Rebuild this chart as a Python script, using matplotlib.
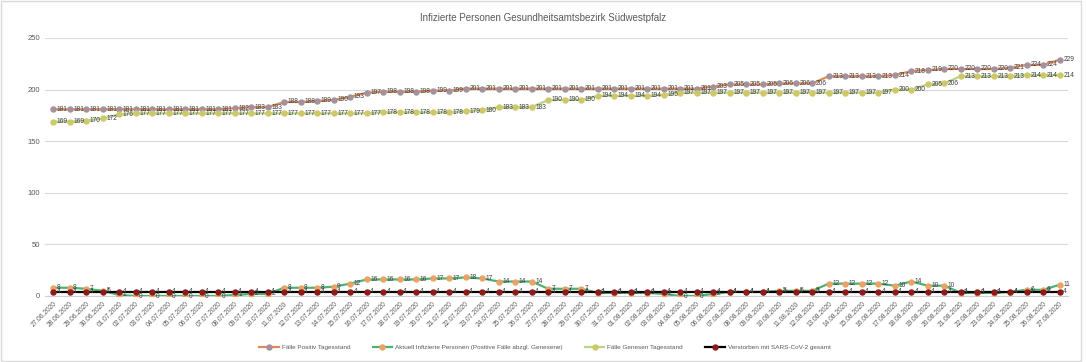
import matplotlib
matplotlib.use("Agg")
import matplotlib.pyplot as plt
import pandas as pd
from matplotlib.patches import Rectangle

plt.rcParams['font.family'] = ['Liberation Sans', 'DejaVu Sans']

dates = [d.strftime('%d.%m.%Y') for d in pd.date_range('2020-06-27', '2020-08-27', freq='D')]

positiv = [181]*11 + [182, 183, 183, 188, 188, 189, 190, 193, 197, 198, 198, 198, 199, 199] + [201]*15 + \
          [203, 205, 205, 205, 206, 206, 206, 213, 213, 213, 213, 214, 218, 219, 220, 220, 220, 220, 221, 224, 224, 229]
aktuell = [8, 8, 7, 5, 1] + [0]*6 + [1, 2, 2, 8, 8, 8, 9, 12, 16, 16, 16, 16, 17, 17, 18, 17, 14, 14, 14,
           7, 7, 7, 3, 3, 3, 3, 2, 0, 0, 2, 4, 4, 4, 5, 5, 5, 12, 12, 12, 12, 10, 14, 10, 10, 3, 3, 3, 4, 6, 6, 11]
genesen = [169, 169, 170, 172, 176] + [177]*15 + [178]*5 + [179, 180, 183, 183, 183, 190, 190, 190,
           194, 194, 194, 194, 195] + [197]*13 + [200, 200, 205, 206, 213, 213, 213, 213, 214, 214, 214]
verstorben = [4]*62

series = [
    ("Fälle Positiv Tagesstand", positiv, '#E08A5C', '#A3919C'),
    ("Aktuell Infizierte Personen (Positive Fälle abzgl. Genesene)", aktuell, '#4DB173', '#E9A365'),
    ("Fälle Genesen Tagesstand", genesen, '#B9D28C', '#CFC867'),
    ("Verstorben mit SARS-CoV-2 gesamt", verstorben, '#000000', '#8B1C1C'),
]

fig = plt.figure(figsize=(10.86, 3.62), dpi=100)
ax = fig.add_axes([45/1086, 1-296/362, (1068-45)/1086, (296-38)/362])

x = list(range(len(dates)))
for name, vals, lc, mc in series:
    ax.plot(x, vals, color=lc, lw=1.6, marker='o', markersize=3.6,
            markerfacecolor=mc, markeredgecolor=mc, label=name, zorder=3)
for name, vals, lc, mc in series:
    for xi, v in zip(x, vals):
        ax.annotate(str(v), (xi, v), xytext=(2.5, 0), textcoords='offset points',
                    ha='left', va='center', fontsize=4.8, color='#404040', zorder=5)

ax.set_xlim(-0.5, len(dates)-0.5)
ax.set_ylim(0, 250)
ax.set_yticks([0, 50, 100, 150, 200, 250])
ax.yaxis.grid(True, color='#DADADA', lw=0.8)
ax.set_axisbelow(True)
for s in ['top', 'right', 'left']:
    ax.spines[s].set_visible(False)
ax.spines['bottom'].set_color('#D0D0D0')
ax.tick_params(axis='y', length=0, labelsize=5.5, labelcolor='#595959', pad=3.5)
ax.set_xticks(x)
ax.set_xticklabels(dates, rotation=45, ha='right', rotation_mode='anchor',
                   fontsize=4.8, color='#595959')
ax.tick_params(axis='x', length=0, pad=3)

fig.text(0.5, 1-18/362, "Infizierte Personen Gesundheitsamtsbezirk Südwestpfalz",
         ha='center', va='center', fontsize=7, color='#595959')

fig.legend(loc='center', bbox_to_anchor=(545/1086, 1-347/362), ncol=4, frameon=False,
           fontsize=4.6, handlelength=3.0, columnspacing=3.5, handletextpad=0.5,
           labelcolor='#595959')

fig.patches.append(Rectangle((0.001, 0.004), 0.994, 0.992, transform=fig.transFigure,
                             fill=False, edgecolor='#D9D9D9', lw=1.0))

fig.savefig('out.png', dpi=100)
